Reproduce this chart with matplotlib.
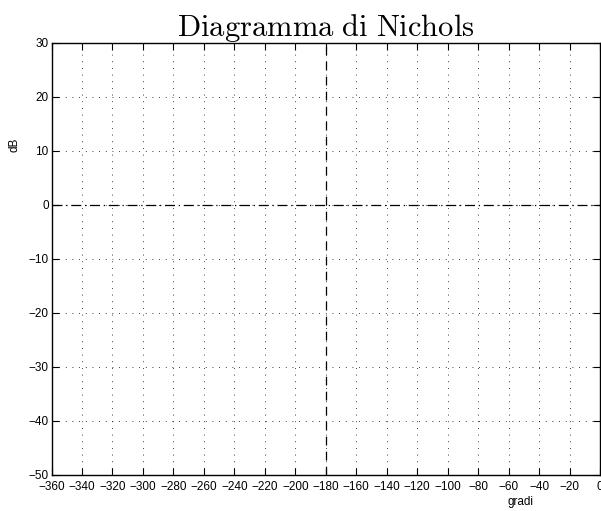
import numpy as np
import matplotlib
matplotlib.use('Agg')
import matplotlib.pyplot as plt

plt.rcParams['mathtext.fontset'] = 'cm'
plt.rcParams['font.family'] = ['Liberation Sans', 'DejaVu Sans']

title = 'Diagramma di Nichols'
xlabel = 'gradi'
ylabel = 'dB'
x_ticks = list(range(-360, 1, 20))
y_ticks = list(range(-50, 31, 10))
phase_line = -180
gain_line = 0

fig = plt.figure(figsize=(6.01, 5.11), dpi=100)
ax = fig.add_axes([0.0857, 0.0705, 0.9126, 0.8454])

ax.set_xlim(x_ticks[0], x_ticks[-1])
ax.set_ylim(y_ticks[0], y_ticks[-1])
ax.set_xticks(x_ticks)
ax.set_yticks(y_ticks)
ax.set_xticklabels([str(t).replace('-', '\u2212') for t in x_ticks])
ax.set_yticklabels([str(t).replace('-', '\u2212') for t in y_ticks])
ax.tick_params(direction='in', top=True, right=True, length=5, width=0.8,
               labelsize=8.5)
ax.tick_params(axis='x', pad=4.5)
ax.tick_params(axis='y', pad=2)

ax.grid(True, linestyle=(0, (1, 7)), color='black', linewidth=0.6)
ax.axvline(phase_line, color='black', linestyle=(0, (7, 5)), linewidth=0.9)
ax.axhline(gain_line, color='black', linestyle=(0, (8, 3, 1, 3)), linewidth=0.9)

for s in ax.spines.values():
    s.set_linewidth(1.0)

ax.set_title(r'$\mathrm{' + title.replace(' ', r'\ ') + '}$', fontsize=22, pad=5)
ax.text(0.856, -0.062, xlabel, transform=ax.transAxes, ha='center', va='center', fontsize=8.5)
ax.text(-0.068, 0.764, ylabel, transform=ax.transAxes, ha='center', va='center',
        rotation=90, fontsize=8.5)

fig.savefig('out.png', dpi=100)
